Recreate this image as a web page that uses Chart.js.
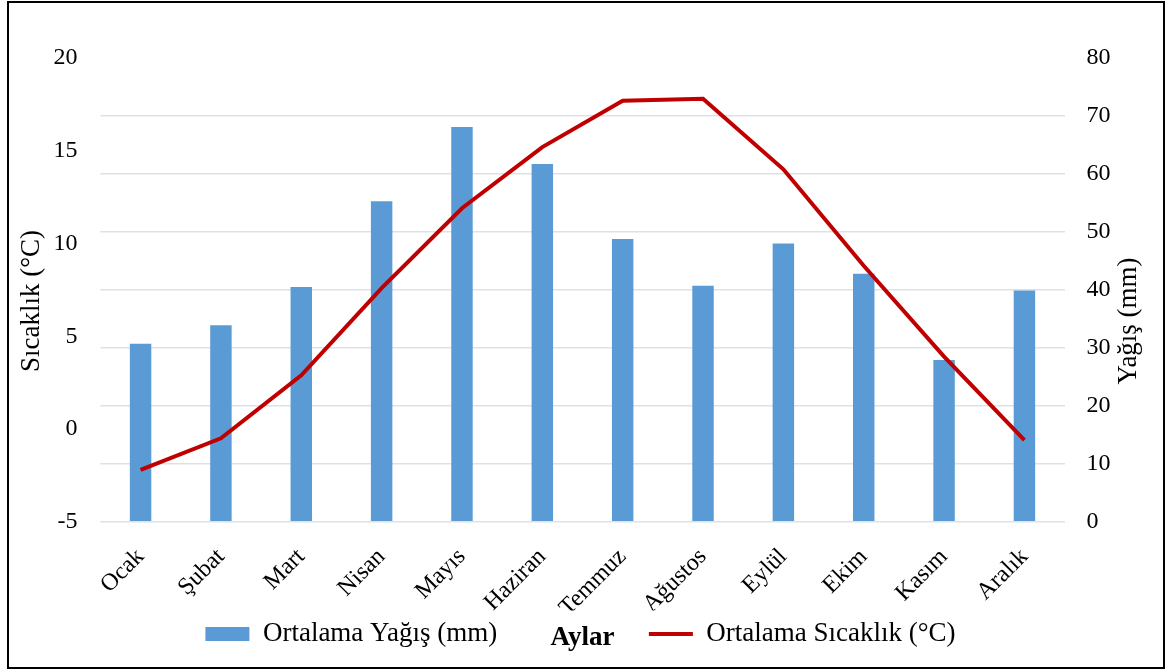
<!DOCTYPE html>
<html>
<head>
<meta charset="utf-8">
<script src="https://cdn.jsdelivr.net/npm/chart.js@4.4.1/dist/chart.umd.min.js"></script>
<style>
  body { margin: 0; background: #fff; }
  #frame {
    position: absolute; left: 7px; top: 1px;
    width: 1158px; height: 668px;
    border: 2px solid #000; box-sizing: border-box;
  }
  #frame canvas { display: block; }
</style>
</head>
<body>
<div id="frame"><canvas id="iklim"></canvas></div>
<script>
const months = ['Ocak', 'Şubat', 'Mart', 'Nisan', 'Mayıs', 'Haziran', 'Temmuz', 'Ağustos', 'Eylül', 'Ekim', 'Kasım', 'Aralık'];
const yagis = [30.7, 33.9, 40.5, 55.3, 68.1, 61.7, 48.8, 40.7, 48.0, 42.8, 27.9, 39.9];
const sicaklik = [-2.2, -0.5, 2.9, 7.6, 11.9, 15.2, 17.7, 17.8, 14.0, 8.8, 3.9, -0.6];
const sicaklikTicks = [-5, 20, 5];   // min, max, step
const yagisTicks = [0, 80, 10];

const serif = '"Liberation Serif", "Times New Roman", serif';
const tickFont = { family: serif, size: 24 };
const titleFont = { family: serif, size: 27 };

// Excel puts both axis titles bottom-to-top and a bit below centre,
// so the space is kept by Chart.js and the text drawn here
const axisTitles = {
    id: 'axisTitles',
    afterDraw(chart) {
        const ctx = chart.ctx;
        const mid = (chart.chartArea.top + chart.chartArea.bottom) / 2;
        const put = (text, x, y) => {
            ctx.save();
            ctx.translate(x, y);
            ctx.rotate(-Math.PI / 2);
            ctx.font = '27px ' + serif;
            ctx.fillStyle = '#000';
            ctx.textAlign = 'center';
            ctx.textBaseline = 'middle';
            ctx.fillText(text, 0, 0);
            ctx.restore();
        };
        put('Sıcaklık (°C)', chart.scales.y.left + 20, mid + 11);
        put('Yağış (mm)', chart.scales.y1.right - 20, mid + 31);
    }
};

const canvas = document.getElementById('iklim');
canvas.width = 1154;
canvas.height = 664;

new Chart(canvas, {
    type: 'bar',
    data: {
        labels: months,
        datasets: [{
            type: 'bar',
            label: 'Ortalama Yağış (mm)',
            data: yagis,
            yAxisID: 'y1',
            backgroundColor: '#5b9bd5',
            borderWidth: 0,
            barPercentage: 0.267,
            categoryPercentage: 1,
            pointStyle: 'rect',
            order: 1
        }, {
            type: 'line',
            label: 'Ortalama Sıcaklık (°C)',
            data: sicaklik,
            yAxisID: 'y',
            borderColor: '#c00000',
            backgroundColor: '#c00000',
            borderWidth: 4,
            tension: 0,
            pointRadius: 0,
            pointStyle: 'line',
            order: 0
        }]
    },
    options: {
        responsive: false,
        animation: false,
        layout: { padding: { left: 3, right: 14, top: 55, bottom: 9.5 } },
        scales: {
            x: {
                grid: { display: false, drawTicks: false },
                border: { display: false },
                ticks: {
                    color: '#000', font: tickFont,
                    minRotation: 45, maxRotation: 45, padding: 21
                },
                title: {
                    display: true, text: 'Aylar', color: '#000',
                    font: { family: serif, size: 27, weight: 'bold' },
                    padding: { top: -21.5, bottom: -43.7 }
                }
            },
            y: {
                position: 'left',
                min: sicaklikTicks[0], max: sicaklikTicks[1],
                grid: { display: false, drawTicks: false },
                border: { display: false },
                ticks: { stepSize: sicaklikTicks[2], color: '#000', font: tickFont, padding: 23 },
                title: {
                    display: true, text: 'Sıcaklık (°C)', color: 'rgba(0,0,0,0)',
                    font: titleFont,
                    padding: { top: 4, bottom: -18 }
                }
            },
            y1: {
                position: 'right',
                min: yagisTicks[0], max: yagisTicks[1],
                grid: {
                    drawTicks: false,
                    lineWidth: 1.5,
                    color: c => c.tick.value === yagisTicks[1] ? 'rgba(0,0,0,0)' : '#dde1e8'
                },
                border: { display: false },
                ticks: { stepSize: yagisTicks[2], color: '#000', font: tickFont, padding: 22 },
                title: {
                    display: true, text: 'Yağış (mm)', color: 'rgba(0,0,0,0)',
                    font: titleFont,
                    padding: { top: 4, bottom: -20 }
                }
            }
        },
        plugins: {
            tooltip: { enabled: false },
            legend: {
                position: 'bottom',
                labels: {
                    color: '#000',
                    font: titleFont,
                    usePointStyle: true,
                    pointStyleWidth: 44,
                    boxHeight: 14,
                    padding: 10,
                    generateLabels(chart) {
                        const items = Chart.defaults.plugins.legend.labels.generateLabels(chart)
                            .sort((a, b) => a.datasetIndex - b.datasetIndex);
                        // gap in the middle where the axis title "Aylar" sits
                        items.splice(1, 0, {
                            text: ' '.repeat(11),
                            fillStyle: 'rgba(0,0,0,0)',
                            strokeStyle: 'rgba(0,0,0,0)',
                            lineWidth: 0,
                            pointStyle: 'line',
                            hidden: false
                        });
                        return items;
                    }
                }
            }
        }
    },
    plugins: [axisTitles]
});
</script>
</body>
</html>
